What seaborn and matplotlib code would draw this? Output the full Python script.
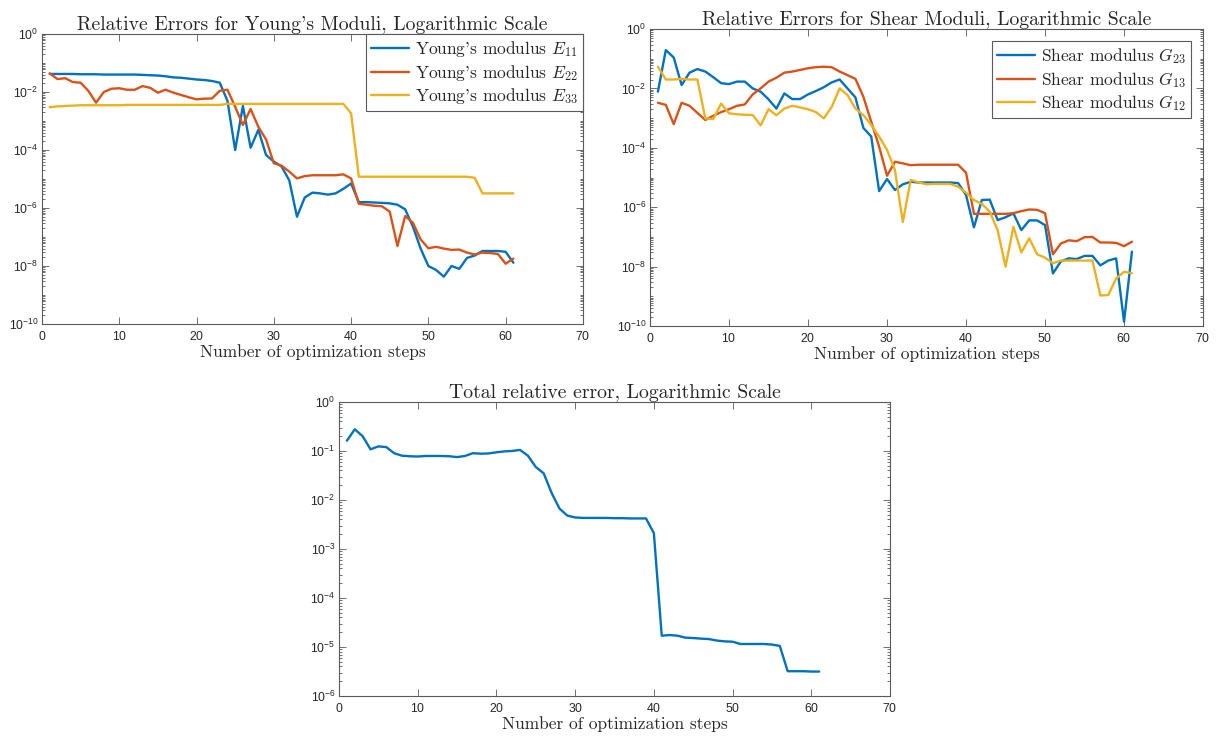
import numpy as np
import matplotlib
matplotlib.use("Agg")
import matplotlib.pyplot as plt
from matplotlib.font_manager import FontProperties
from matplotlib.ticker import FixedLocator, LogLocator, NullFormatter, FuncFormatter
import seaborn as sns

# ---------------------------------------------------------------- data
steps = list(range(1, 62))

young_E11 = [
    0.042, 0.042, 0.042, 0.042, 0.041, 0.041, 0.041, 0.040, 0.040, 0.040,
    0.040, 0.040, 0.039, 0.038, 0.037, 0.035, 0.032, 0.031, 0.029, 0.027,
    0.026, 0.024, 0.021, 5.0e-3, 1.0e-4, 3.3e-3, 1.2e-4, 5.0e-4, 6.7e-5, 4.0e-5,
    2.7e-5, 9.0e-6, 5.0e-7, 2.3e-6, 3.4e-6, 3.2e-6, 2.9e-6, 3.2e-6, 4.6e-6, 7.0e-6,
    1.6e-6, 1.6e-6, 1.55e-6, 1.5e-6, 1.45e-6, 1.3e-6, 9.0e-7, 2.3e-7, 4.0e-8, 1.0e-8,
    7.3e-9, 4.3e-9, 1.0e-8, 8.0e-9, 1.9e-8, 2.3e-8, 3.3e-8, 3.3e-8, 3.3e-8, 3.1e-8,
    1.3e-8,
]
young_E22 = [
    0.044, 0.028, 0.030, 0.022, 0.021, 0.011, 4.3e-3, 0.010, 0.013, 0.0135,
    0.012, 0.012, 0.016, 0.014, 9.5e-3, 0.012, 9.5e-3, 7.9e-3, 6.6e-3, 5.6e-3,
    5.9e-3, 6.0e-3, 0.011, 0.012, 3.1e-3, 7.3e-4, 2.6e-3, 6.3e-4, 2.3e-4, 3.5e-5,
    2.9e-5, 1.8e-5, 1.05e-5, 1.26e-5, 1.35e-5, 1.35e-5, 1.35e-5, 1.35e-5, 1.45e-5, 1.05e-5,
    1.4e-6, 1.3e-6, 1.2e-6, 1.15e-6, 7.5e-7, 4.9e-8, 5.3e-7, 3.1e-7, 8.3e-8, 4.1e-8,
    4.6e-8, 4.0e-8, 3.6e-8, 3.7e-8, 2.9e-8, 2.5e-8, 2.9e-8, 2.8e-8, 2.6e-8, 1.2e-8,
    1.8e-8,
]
young_E33 = [
    3.0e-3, 3.2e-3, 3.3e-3, 3.4e-3, 3.5e-3, 3.5e-3, 3.5e-3, 3.5e-3, 3.5e-3, 3.5e-3,
    3.6e-3, 3.6e-3, 3.6e-3, 3.6e-3, 3.6e-3, 3.6e-3, 3.6e-3, 3.6e-3, 3.6e-3, 3.6e-3,
    3.6e-3, 3.6e-3, 3.6e-3, 3.9e-3, 3.9e-3, 3.9e-3, 3.9e-3, 3.9e-3, 3.9e-3, 3.9e-3,
    3.9e-3, 3.9e-3, 3.9e-3, 3.9e-3, 3.9e-3, 3.9e-3, 3.9e-3, 3.9e-3, 3.9e-3, 1.85e-3,
    1.2e-5, 1.2e-5, 1.2e-5, 1.2e-5, 1.2e-5, 1.2e-5, 1.2e-5, 1.2e-5, 1.2e-5, 1.2e-5,
    1.2e-5, 1.2e-5, 1.2e-5, 1.2e-5, 1.2e-5, 1.1e-5, 3.2e-6, 3.2e-6, 3.2e-6, 3.2e-6,
    3.2e-6,
]

shear_G23 = [
    7.8e-3, 0.196, 0.11, 0.013, 0.034, 0.045, 0.037, 0.024, 0.015, 0.014,
    0.017, 0.017, 0.010, 7.8e-3, 4.3e-3, 2.1e-3, 6.8e-3, 4.4e-3, 4.4e-3, 6.3e-3,
    8.2e-3, 0.011, 0.016, 0.020, 0.010, 5.0e-3, 4.7e-4, 2.4e-4, 3.5e-6, 8.9e-6,
    3.8e-6, 5.9e-6, 7.2e-6, 6.8e-6, 6.8e-6, 6.8e-6, 6.8e-6, 6.8e-6, 6.5e-6, 2.6e-6,
    2.1e-7, 1.75e-6, 1.8e-6, 3.7e-7, 4.6e-7, 6.2e-7, 1.7e-7, 3.6e-7, 3.6e-7, 2.5e-7,
    5.9e-9, 1.5e-8, 1.9e-8, 1.8e-8, 2.3e-8, 2.3e-8, 1.1e-8, 1.6e-8, 1.9e-8, 1.4e-10,
    3.2e-8,
]
shear_G13 = [
    3.3e-3, 2.8e-3, 6.3e-4, 3.3e-3, 2.6e-3, 1.5e-3, 8.7e-4, 1.2e-3, 1.6e-3, 2.0e-3,
    2.6e-3, 2.9e-3, 6.3e-3, 0.010, 0.017, 0.023, 0.034, 0.037, 0.042, 0.048,
    0.052, 0.054, 0.052, 0.037, 0.028, 0.021, 5.3e-3, 7.6e-4, 1.1e-4, 1.15e-5,
    3.4e-5, 3.0e-5, 2.6e-5, 2.7e-5, 2.7e-5, 2.7e-5, 2.7e-5, 2.7e-5, 2.7e-5, 1.45e-5,
    6.0e-7, 6.0e-7, 6.0e-7, 6.0e-7, 6.0e-7, 6.3e-7, 7.4e-7, 8.4e-7, 8.2e-7, 6.3e-7,
    2.6e-8, 6.0e-8, 7.7e-8, 7.2e-8, 9.8e-8, 1.0e-7, 6.5e-8, 6.5e-8, 6.3e-8, 4.9e-8,
    6.9e-8,
]
shear_G12 = [
    0.054, 0.020, 0.020, 0.021, 0.020, 0.020, 9.8e-4, 9.3e-4, 3.1e-3, 1.45e-3,
    1.35e-3, 1.3e-3, 1.28e-3, 5.7e-4, 2.0e-3, 1.25e-3, 2.1e-3, 2.6e-3, 2.3e-3, 2.0e-3,
    1.6e-3, 9.8e-4, 2.4e-3, 0.010, 6.0e-3, 2.1e-3, 1.27e-3, 5.9e-4, 2.4e-4, 8.5e-5,
    1.8e-5, 3.2e-7, 8.3e-6, 6.9e-6, 5.9e-6, 6.1e-6, 6.1e-6, 6.1e-6, 4.9e-6, 3.1e-6,
    1.75e-6, 1.3e-6, 7.1e-7, 1.7e-7, 1.0e-8, 2.2e-7, 3.0e-8, 9.0e-8, 2.6e-8, 2.0e-8,
    1.3e-8, 1.6e-8, 1.6e-8, 1.6e-8, 1.6e-8, 1.6e-8, 1.07e-9, 1.1e-9, 4.0e-9, 6.7e-9,
    6.0e-9,
]

total_error = [
    0.162, 0.277, 0.20, 0.108, 0.124, 0.12, 0.090, 0.080, 0.078, 0.077,
    0.079, 0.079, 0.079, 0.078, 0.075, 0.079, 0.090, 0.088, 0.089, 0.094,
    0.098, 0.100, 0.105, 0.080, 0.047, 0.035, 0.014, 6.7e-3, 4.8e-3, 4.4e-3,
    4.3e-3, 4.3e-3, 4.3e-3, 4.3e-3, 4.25e-3, 4.25e-3, 4.2e-3, 4.2e-3, 4.2e-3, 2.1e-3,
    1.7e-5, 1.75e-5, 1.7e-5, 1.55e-5, 1.52e-5, 1.48e-5, 1.45e-5, 1.35e-5, 1.3e-5, 1.28e-5,
    1.15e-5, 1.15e-5, 1.15e-5, 1.15e-5, 1.12e-5, 1.05e-5, 3.2e-6, 3.2e-6, 3.2e-6, 3.15e-6,
    3.15e-6,
]

young_labels = [r"Young's modulus $E_{11}$", r"Young's modulus $E_{22}$",
                r"Young's modulus $E_{33}$"]
shear_labels = [r"Shear modulus $G_{23}$", r"Shear modulus $G_{13}$",
                r"Shear modulus $G_{12}$"]
x_ticks = [0, 10, 20, 30, 40, 50, 60, 70]

# ---------------------------------------------------------------- style
BLUE, ORANGE, YELLOW = "#0072BD", "#D95319", "#EDB120"
AXIS_GRAY = "#5a5a5a"

sns.set_style("ticks")
plt.rcParams.update({
    "font.family": ["Liberation Sans", "DejaVu Sans"],
    "mathtext.fontset": "custom",
    "mathtext.rm": "cmr10",
    "mathtext.it": "cmmi10",
    "mathtext.sf": "Liberation Sans",
    "axes.formatter.use_mathtext": True,
    "axes.edgecolor": AXIS_GRAY,
    "axes.linewidth": 0.8,
    "xtick.color": AXIS_GRAY,
    "ytick.color": AXIS_GRAY,
    "xtick.labelcolor": "#262626",
    "ytick.labelcolor": "#262626",
})

serif_title = FontProperties(family="cmr10", size=14.2)
serif_label = FontProperties(family="cmr10", size=12.5)
serif_legend = FontProperties(family="cmr10", size=12.5)


def sci_label(v, _pos):
    e = int(round(np.log10(v)))
    return r"$\mathsf{10^{%d}}$" % e


def style_axes(ax, ymin_exp, major_step):
    ax.set_yscale("log")
    ax.set_xlim(0, 70)
    ax.set_ylim(10.0 ** ymin_exp, 1.0)
    ax.xaxis.set_major_locator(FixedLocator(x_ticks))
    majors = [10.0 ** e for e in range(ymin_exp, 1, major_step)]
    ax.yaxis.set_major_locator(FixedLocator(majors))
    ax.yaxis.set_major_formatter(FuncFormatter(sci_label))
    ax.yaxis.set_minor_locator(LogLocator(base=10, subs=np.arange(1, 10), numticks=200))
    ax.yaxis.set_minor_formatter(NullFormatter())
    ax.tick_params(which="both", direction="in", top=True, right=True,
                   width=0.6, labelsize=8.8)
    ax.tick_params(axis="x", which="major", length=5, pad=4)
    ax.tick_params(axis="y", which="major", length=5, pad=2.5)
    ax.tick_params(axis="y", which="minor", length=2.5)
    for side in ("top", "right", "bottom", "left"):
        ax.spines[side].set_visible(True)
    ax.set_xlabel("Number of optimization steps", fontproperties=serif_label, labelpad=1)
    ax.set_ylabel("")


def draw_series(ax, series):
    for vals, color, label in series:
        sns.lineplot(x=steps, y=vals, ax=ax, color=color, linewidth=1.7,
                     label=label)


def add_legend(ax, pad):
    leg = ax.legend(loc="upper right", prop=serif_legend, frameon=True,
                    fancybox=False, framealpha=1.0, edgecolor=AXIS_GRAY,
                    borderaxespad=pad, borderpad=0.3, handlelength=2.2,
                    handletextpad=0.3, labelspacing=0.2)
    leg.get_frame().set_linewidth(0.8)


fig = plt.figure(figsize=(12.2, 7.43), dpi=100)

ax_young = fig.add_axes([0.0344, 0.5639, 0.4434, 0.3903])
ax_shear = fig.add_axes([0.5328, 0.5612, 0.4533, 0.3997])
ax_total = fig.add_axes([0.2779, 0.0633, 0.4516, 0.3957])

draw_series(ax_young, [(young_E11, BLUE, young_labels[0]),
                       (young_E22, ORANGE, young_labels[1]),
                       (young_E33, YELLOW, young_labels[2])])
style_axes(ax_young, -10, 2)
add_legend(ax_young, 0.0)
ax_young.set_title("Relative Errors for Young's Moduli, Logarithmic Scale",
                   fontproperties=serif_title, pad=3)

draw_series(ax_shear, [(shear_G23, BLUE, shear_labels[0]),
                       (shear_G13, ORANGE, shear_labels[1]),
                       (shear_G12, YELLOW, shear_labels[2])])
style_axes(ax_shear, -10, 2)
add_legend(ax_shear, 0.7)
ax_shear.set_title("Relative Errors for Shear Moduli, Logarithmic Scale",
                   fontproperties=serif_title, pad=3)

sns.lineplot(x=steps, y=total_error, ax=ax_total, color=BLUE, linewidth=1.7)
style_axes(ax_total, -6, 1)
if ax_total.get_legend() is not None:
    ax_total.get_legend().remove()
ax_total.set_title("Total relative error, Logarithmic Scale",
                   fontproperties=serif_title, pad=3)

fig.savefig("out.png", dpi=100, facecolor="white")
